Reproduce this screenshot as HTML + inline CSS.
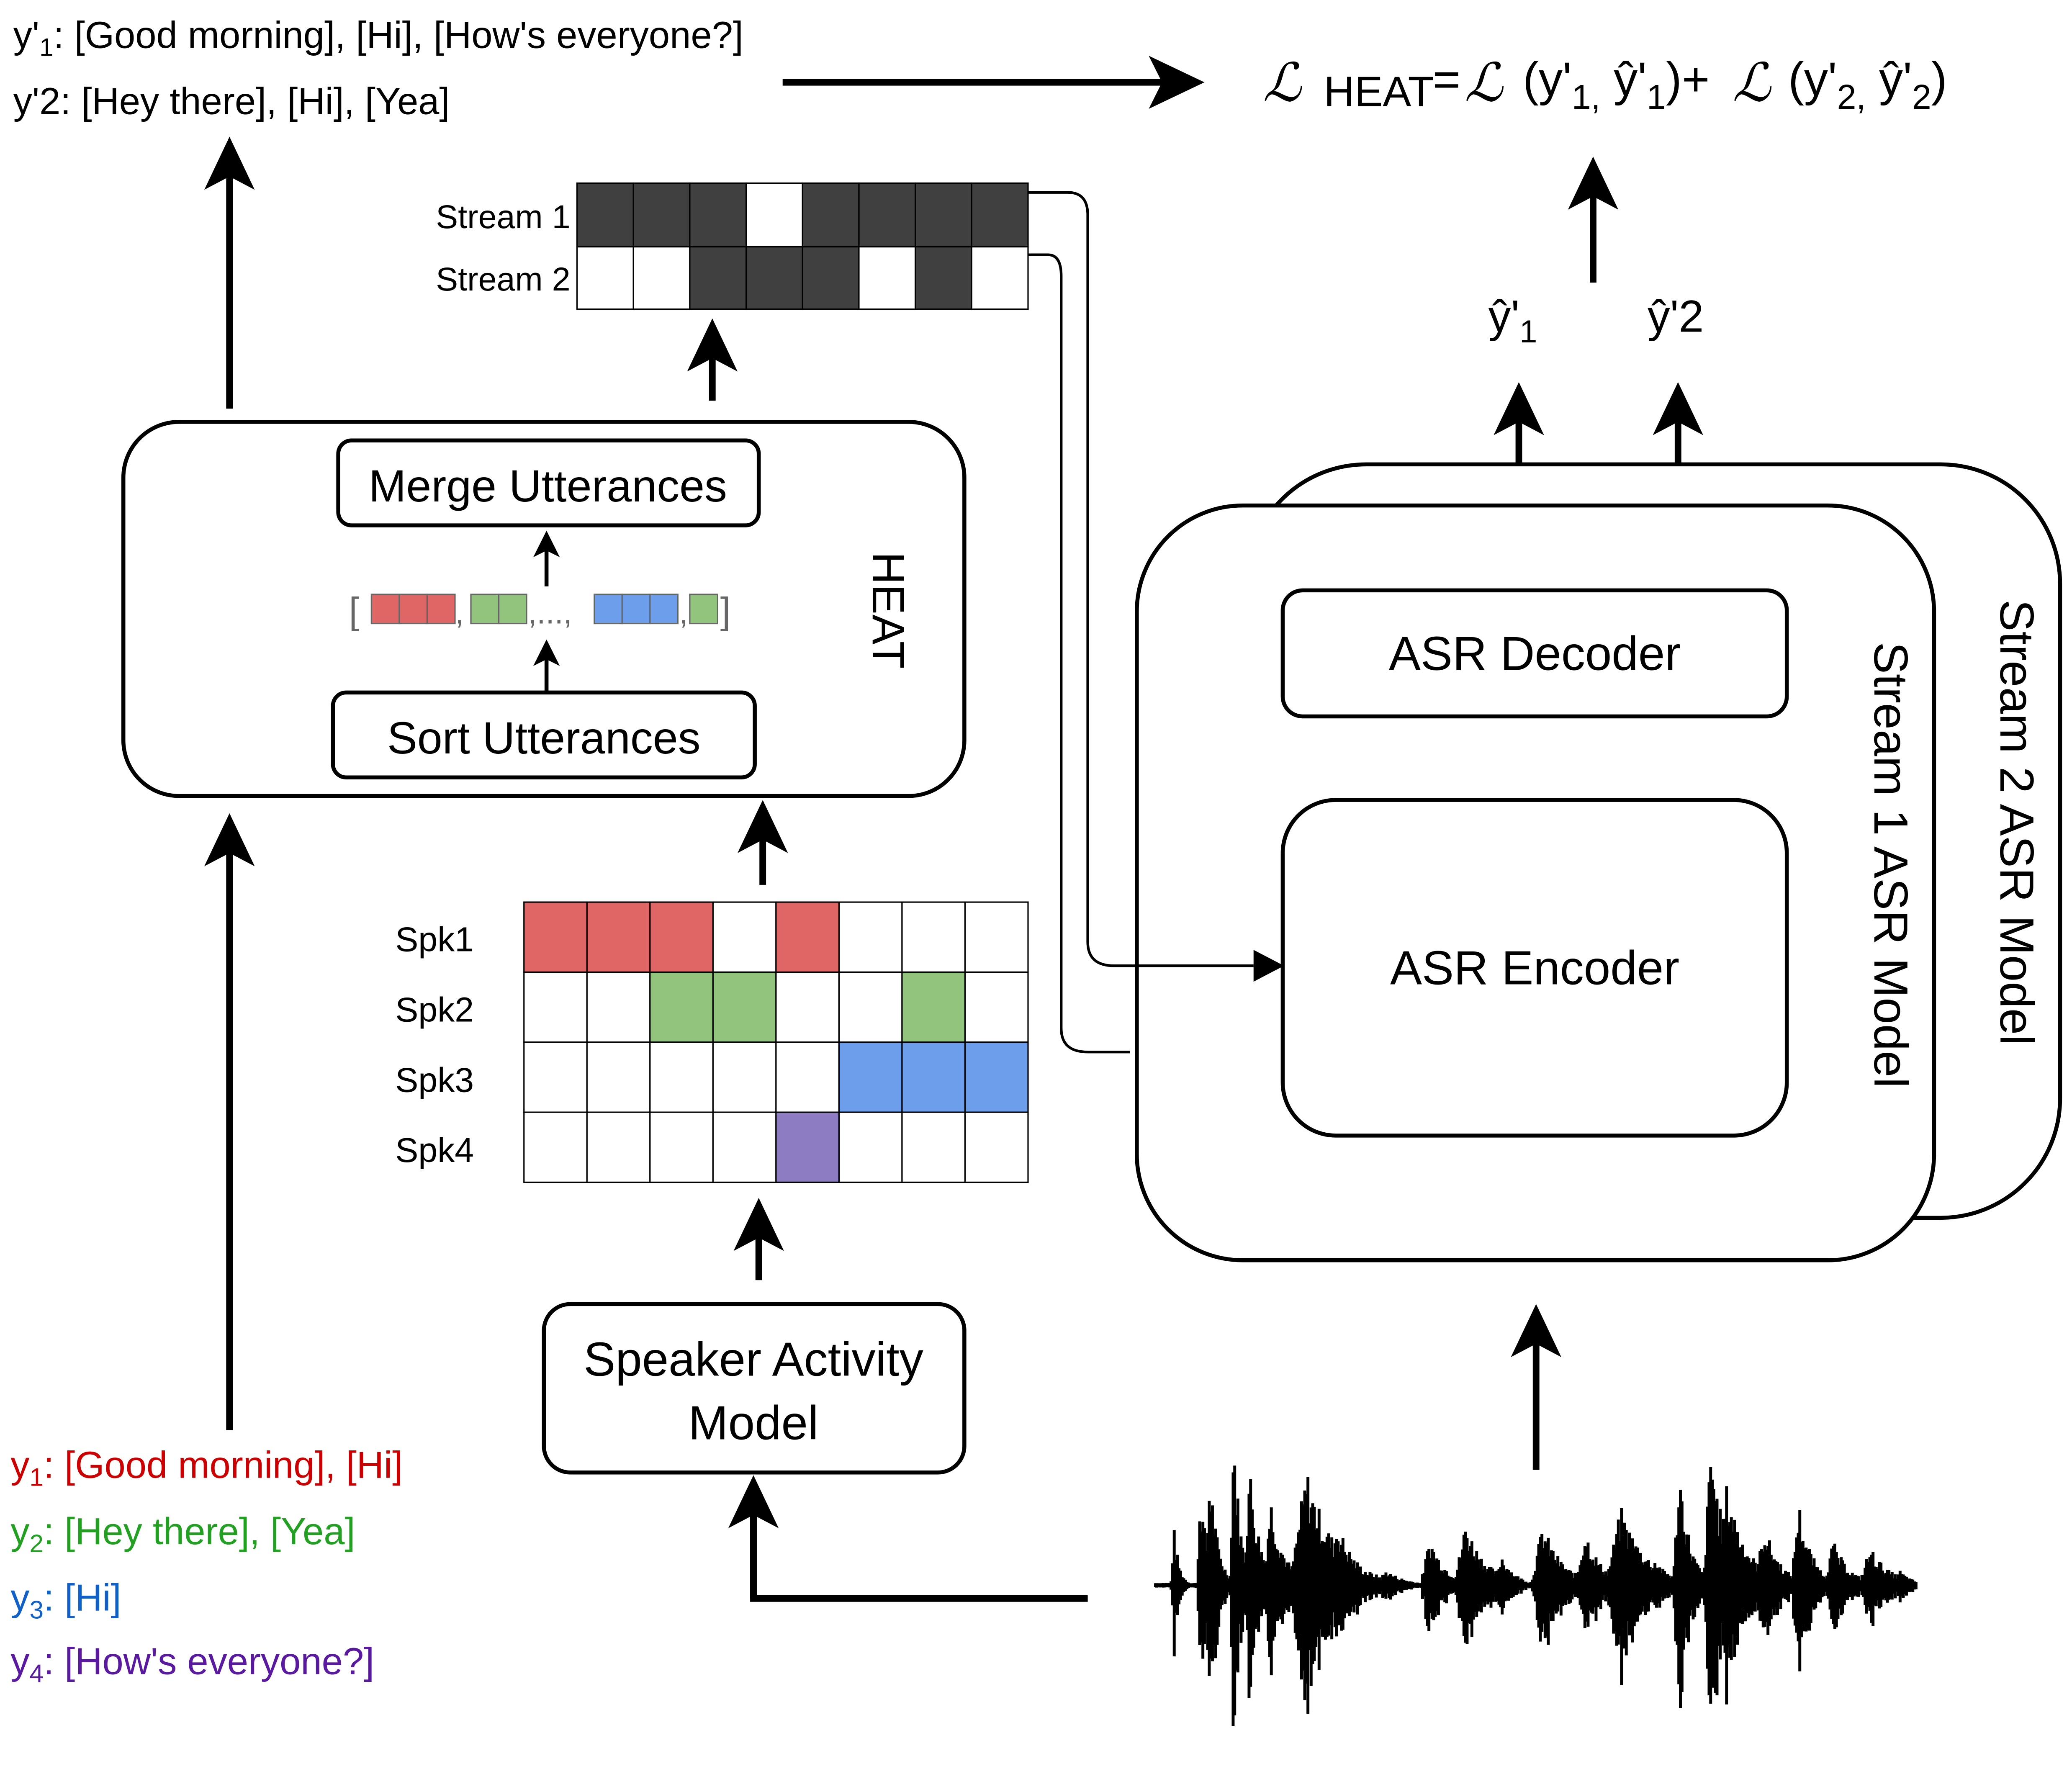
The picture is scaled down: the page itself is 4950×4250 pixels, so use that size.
<!DOCTYPE html>
<html><head><meta charset="utf-8"><style>
html,body{margin:0;padding:0;background:#fff;}
svg{display:block;}
text{font-family:"Liberation Sans",Arial,sans-serif;}
</style></head><body>
<svg id="s" width="4950" height="4250" viewBox="0 0 1562 1341" xmlns="http://www.w3.org/2000/svg">
<rect width="1562" height="1341" fill="#fff"/>

<text x="10" y="36" font-size="28.5">y'<tspan font-size="19" dy="6">1</tspan><tspan dy="-6">: [Good morning], [Hi], [How's everyone?]</tspan></text>
<text x="10" y="86" font-size="28.5">y'2: [Hey there], [Hi], [Yea]</text>
<line x1="590" y1="62" x2="880" y2="62" stroke="#000" stroke-width="5"/>
<path d="M866,42 L908,62 L866,82 L876,62 Z" fill="#000"/>
<text x="952" y="76" font-size="40" font-style="italic" font-family="Liberation Serif,serif">ℒ</text>
<text x="998" y="80" font-size="32">HEAT</text>
<text x="1080" y="72" font-size="36">=</text>
<text x="1104" y="76" font-size="40" font-style="italic" font-family="Liberation Serif,serif">ℒ</text>
<text x="1148" y="72" font-size="36">(y'<tspan font-size="26" dy="10">1,</tspan><tspan dy="-10"> ŷ'</tspan><tspan font-size="26" dy="10">1</tspan><tspan dy="-10">)+</tspan></text>
<text x="1306" y="76" font-size="40" font-style="italic" font-family="Liberation Serif,serif">ℒ</text>
<text x="1348" y="72" font-size="36">(y'<tspan font-size="26" dy="10">2,</tspan><tspan dy="-10"> ŷ'</tspan><tspan font-size="26" dy="10">2</tspan><tspan dy="-10">)</tspan></text>

<g id="arrows" fill="#000"></g>

<g id="sg" stroke="#000" stroke-width="1"></g>
<text x="430" y="172" font-size="25" text-anchor="end">Stream 1</text>
<text x="430" y="219" font-size="25" text-anchor="end">Stream 2</text>

<rect x="93" y="318" width="634" height="282" rx="42" fill="none" stroke="#000" stroke-width="3"/>
<text transform="translate(658,460) rotate(90)" font-size="34" text-anchor="middle">HEAT</text>
<rect x="255" y="332" width="317" height="64" rx="10" fill="#fff" stroke="#000" stroke-width="3"/>
<text x="413" y="378" font-size="34" text-anchor="middle">Merge Utterances</text>
<rect x="251" y="522" width="318" height="64" rx="10" fill="#fff" stroke="#000" stroke-width="3"/>
<text x="410" y="568" font-size="34" text-anchor="middle">Sort Utterances</text>
<g id="bl" stroke="#666" stroke-width="1"></g>
<text x="263" y="470" font-size="28" fill="#666">[</text>
<text x="343" y="470" font-size="24" fill="#666">,</text>
<text x="398" y="470" font-size="24" fill="#666">,...,</text>
<text x="512" y="470" font-size="24" fill="#666">,</text>
<text x="543" y="470" font-size="28" fill="#666">]</text>

<g id="spg" stroke="#000" stroke-width="1"></g>
<text x="298" y="717" font-size="26">Spk1</text>
<text x="298" y="770" font-size="26">Spk2</text>
<text x="298" y="823" font-size="26">Spk3</text>
<text x="298" y="876" font-size="26">Spk4</text>

<rect x="410" y="983" width="317" height="127" rx="20" fill="#fff" stroke="#000" stroke-width="3"/>
<text x="568" y="1037" font-size="36" text-anchor="middle">Speaker Activity</text>
<text x="568" y="1085" font-size="36" text-anchor="middle">Model</text>

<polyline points="820,1205 568,1205 568,1140" fill="none" stroke="#000" stroke-width="5"/>

<text x="8" y="1114" font-size="28.5" fill="#cc0000">y<tspan font-size="19" dy="6">1</tspan><tspan dy="-6">: [Good morning], [Hi]</tspan></text>
<text x="8" y="1164" font-size="28.5" fill="#22a022">y<tspan font-size="19" dy="6">2</tspan><tspan dy="-6">: [Hey there], [Yea]</tspan></text>
<text x="8" y="1214" font-size="28.5" fill="#1060c8">y<tspan font-size="19" dy="6">3</tspan><tspan dy="-6">: [Hi]</tspan></text>
<text x="8" y="1262" font-size="28.5" fill="#5a1aa0">y<tspan font-size="19" dy="6">4</tspan><tspan dy="-6">: [How's everyone?]</tspan></text>

<rect x="940" y="350" width="613" height="568" rx="90" fill="#fff" stroke="#000" stroke-width="3"/>
<rect x="857" y="381" width="601" height="569" rx="80" fill="#fff" stroke="#000" stroke-width="3"/>
<text transform="translate(1508,620) rotate(90)" font-size="36" text-anchor="middle">Stream 2 ASR Model</text>
<text transform="translate(1413,652) rotate(90)" font-size="36" text-anchor="middle">Stream 1 ASR Model</text>
<rect x="967" y="445" width="380" height="95" rx="15" fill="#fff" stroke="#000" stroke-width="3"/>
<text x="1157" y="505" font-size="36" text-anchor="middle">ASR Decoder</text>
<rect x="967" y="603" width="380" height="253" rx="40" fill="#fff" stroke="#000" stroke-width="3"/>
<text x="1157" y="742" font-size="36" text-anchor="middle">ASR Encoder</text>

<text x="1122" y="250" font-size="34">ŷ'<tspan font-size="24" dy="8">1</tspan></text>
<text x="1242" y="250" font-size="34">ŷ'2</text>

<path d="M775,145 L805,145 Q820,145 820,162 L820,710 Q820,728 840,728 L945,728" fill="none" stroke="#000" stroke-width="2"/>
<path d="M945,716 L968,728 L945,740 Z" fill="#000"/>
<path d="M775,192 L790,192 Q800,192 800,208 L800,775 Q800,793 820,793 L852,793" fill="none" stroke="#000" stroke-width="2"/>

<g id="wave" stroke="#000" stroke-width="2.2"></g>
</svg>
<script>
var NS="http://www.w3.org/2000/svg";
function el(p,t,a){var e=document.createElementNS(NS,t);for(var k in a)e.setAttribute(k,a[k]);document.getElementById(p).appendChild(e);return e;}
function arrow(x,y1,y2){
 el("arrows","line",{x1:x,y1:y1,x2:x,y2:y2+20,stroke:"#000","stroke-width":5});
 el("arrows","path",{d:"M"+(x-19)+","+(y2+40)+" L"+x+","+y2+" L"+(x+19)+","+(y2+40)+" L"+x+","+(y2+30)+" Z"});
}
function sarrow(x,y1,y2){
 el("arrows","line",{x1:x,y1:y1,x2:x,y2:y2+10,stroke:"#000","stroke-width":3});
 el("arrows","path",{d:"M"+(x-10)+","+(y2+20)+" L"+x+","+y2+" L"+(x+10)+","+(y2+20)+" L"+x+","+(y2+15)+" Z"});
}
arrow(173,308,103); arrow(537,302,240); arrow(575,667,603); arrow(572,965,903);
arrow(173,1078,613); arrow(1145,380,288); arrow(1265,350,288); arrow(1201,213,118);
arrow(1158,1108,983); arrow(568,1205,1112);
sarrow(412,442,400); sarrow(412,522,482);
var s1=[1,1,1,0,1,1,1,1],s2=[0,0,1,1,1,0,1,0];
for(var i=0;i<8;i++){
 el("sg","rect",{x:435+i*42.5,y:138,width:42.5,height:48,fill:s1[i]?"#404040":"#fff"});
 el("sg","rect",{x:435+i*42.5,y:186,width:42.5,height:47,fill:s2[i]?"#404040":"#fff"});
}
var R="#e06666",G="#93c47d",B="#6d9eeb",P="#8e7cc3",W="#fff";
var g=[[R,R,R,W,R,W,W,W],[W,W,G,G,W,W,G,W],[W,W,W,W,W,B,B,B],[W,W,W,W,P,W,W,W]];
for(var r=0;r<4;r++)for(var c=0;c<8;c++)el("spg","rect",{x:395+c*47.5,y:680+r*52.8,width:47.5,height:52.8,fill:g[r][c]});
var bl=[[280,R],[301,R],[322,R],[355,G],[376,G],[448,B],[469,B],[490,B],[520,G]];
bl.forEach(function(b){el("bl","rect",{x:b[0],y:448,width:21,height:22,fill:b[1]});});
var seed=7;function rnd(){seed=(seed*9301+49297)%233280;return seed/233280;}
var peaks=[[885,45,4],[905,80,5],[912,95,6],[930,130,5],[942,95,8],[958,70,10],[985,90,22],[1008,50,15],[1045,12,15],[1078,38,12],[1105,50,15],[1132,25,10],[1163,48,15],[1195,45,12],[1222,60,20],[1248,22,10],[1266,95,8],[1290,115,10],[1302,80,15],[1330,48,12],[1356,65,10],[1382,35,12],[1410,30,15],[1432,12,10]];
el("wave","line",{x1:870,y1:1195,x2:1445,y2:1195,"stroke-width":3});
for(var x=872;x<1445;x+=1.2){
 var a=2;peaks.forEach(function(p){var d=(x-p[0])/p[2];if(d>-0.6)a=Math.max(a,p[1]*Math.exp(-Math.max(d,0)*1.0)*(d<0?Math.max(0,1+d/0.6):1));});
 var h=a*(0.55+0.45*rnd());
 el("wave","line",{x1:x,y1:1195-h,x2:x,y2:1195+h*(0.9+0.4*rnd())});
}
</script>
</body></html>
